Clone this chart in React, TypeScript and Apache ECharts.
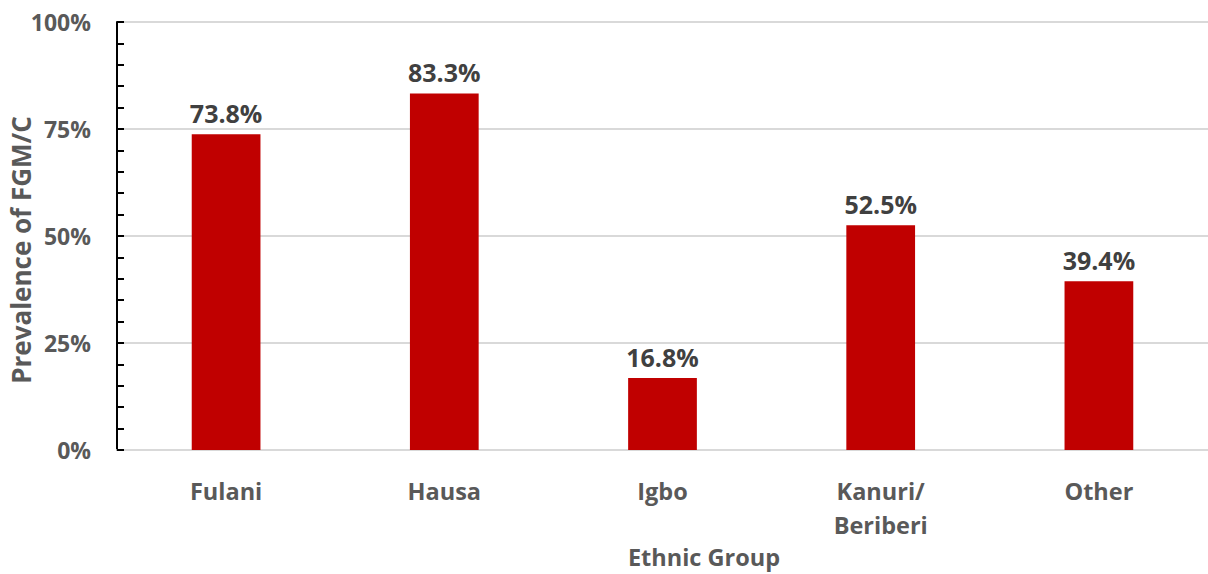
import React, { useEffect, useRef } from "react";
import * as echarts from "echarts";

const categories = ["Fulani", "Hausa", "Igbo", "Kanuri/\nBeriberi", "Other"];
const prevalence = [73.8, 83.3, 16.8, 52.5, 39.4];
const yTicks = [0, 25, 50, 75, 100];
const yTitle = "Prevalence of FGM/C";
const xTitle = "Ethnic Group";

const FONT = "'Open Sans', 'Liberation Sans', sans-serif";

export default function App() {
  const ref = useRef<HTMLDivElement>(null);
  useEffect(() => {
    if (!ref.current) return;
    const chart = echarts.init(ref.current, null, { renderer: "svg" });
    chart.setOption({
      animation: false,
      backgroundColor: "#ffffff",
      grid: { left: 117, width: 1096, top: 22, height: 428, containLabel: false },
      xAxis: {
        type: "category",
        data: categories,
        axisLine: { show: true, lineStyle: { color: "#d9d9d9", width: 2 } },
        axisTick: { show: false },
        axisLabel: {
          color: "#595959",
          fontFamily: FONT,
          fontWeight: "bold",
          fontSize: 23.5,
          margin: 24,
          lineHeight: 34,
        },
      },
      yAxis: {
        type: "value",
        min: yTicks[0],
        max: yTicks[yTicks.length - 1],
        interval: 25,
        axisLine: { show: true, lineStyle: { color: "#000000", width: 2 } },
        axisTick: { show: true, inside: true, length: 7, lineStyle: { color: "#000000", width: 2 } },
        minorTick: { show: true, splitNumber: 5, length: 7, lineStyle: { color: "#000000", width: 2 } },
        splitLine: { show: true, lineStyle: { color: "#d9d9d9", width: 2 } },
        axisLabel: {
          color: "#595959",
          fontFamily: FONT,
          fontWeight: "bold",
          fontSize: 23,
          margin: 26,
          formatter: (v: number) => v + "%",
        },
      },
      series: [
        {
          type: "bar",
          data: prevalence,
          barWidth: "31.5%",
          itemStyle: { color: "#c00000" },
          label: {
            show: true,
            position: "top",
            distance: 9,
            color: "#404040",
            fontFamily: FONT,
            fontWeight: "bold",
            fontSize: 25,
            formatter: (p: any) => p.value.toFixed(1) + "%",
          },
        },
      ],
      graphic: [
        {
          type: "text",
          x: 21,
          y: 250,
          rotation: Math.PI / 2,
          style: {
            text: yTitle,
            fill: "#595959",
            font: `bold 26px ${FONT}`,
            textAlign: "center",
            textVerticalAlign: "middle",
          },
        },
        {
          type: "text",
          x: 704,
          y: 557,
          style: {
            text: xTitle,
            fill: "#595959",
            font: `bold 23.5px ${FONT}`,
            textAlign: "center",
            textVerticalAlign: "middle",
          },
        },
      ],
    });
    return () => chart.dispose();
  }, []);
  return <div ref={ref} style={{ width: 1208, height: 574, position: "absolute", left: 0, top: 0 }} />;
}
